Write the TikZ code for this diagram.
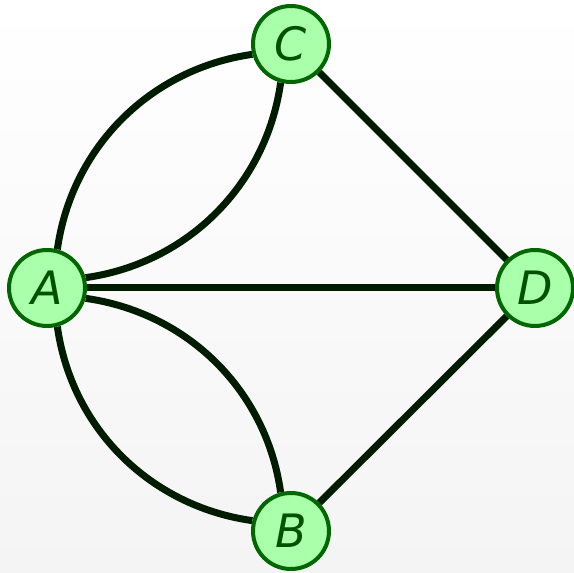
\documentclass[tikz,border=0pt]{standalone}
\usepackage{fontspec}
\usetikzlibrary{backgrounds}
\newfontfamily\nodefont{DejaVu Sans}
\definecolor{nfill}{HTML}{AAFFAA}
\definecolor{nborder}{HTML}{006600}
\definecolor{ntext}{HTML}{005000}
\definecolor{edgec}{HTML}{001C00}
\definecolor{bgbot}{HTML}{F4F4F4}
\begin{document}
\begin{tikzpicture}[x=1pt,y=1pt,
  vtx/.style={circle,draw=nborder,fill=nfill,line width=4pt,minimum size=76pt,inner sep=0pt,
    text=ntext,font=\nodefont\itshape\fontsize{46}{50}\selectfont},
  edge/.style={draw=edgec,line width=7pt}]
\useasboundingbox (0,0) rectangle (574,573);
\node[vtx] (A) at (47,285) {A};
\node[vtx] (C) at (291,529) {C};
\node[vtx] (D) at (535,285) {D};
\node[vtx] (B) at (291,42) {B};
\begin{scope}[on background layer]
\shade[top color=white,bottom color=bgbot] (0,0) rectangle (574,573);
\path[edge] (A.75) .. controls +(82:103) and +(188:103) .. (C.195);
\path[edge] (A.15) .. controls +(8:103) and +(262:103) .. (C.255);
\path[edge] (A.-75) .. controls +(-82:103) and +(172:103) .. (B.165);
\path[edge] (A.-15) .. controls +(-8:103) and +(98:103) .. (B.105);
\path[edge] (A) -- (D);
\path[edge] (C) -- (D);
\path[edge] (B) -- (D);
\end{scope}
\end{tikzpicture}
\end{document}
